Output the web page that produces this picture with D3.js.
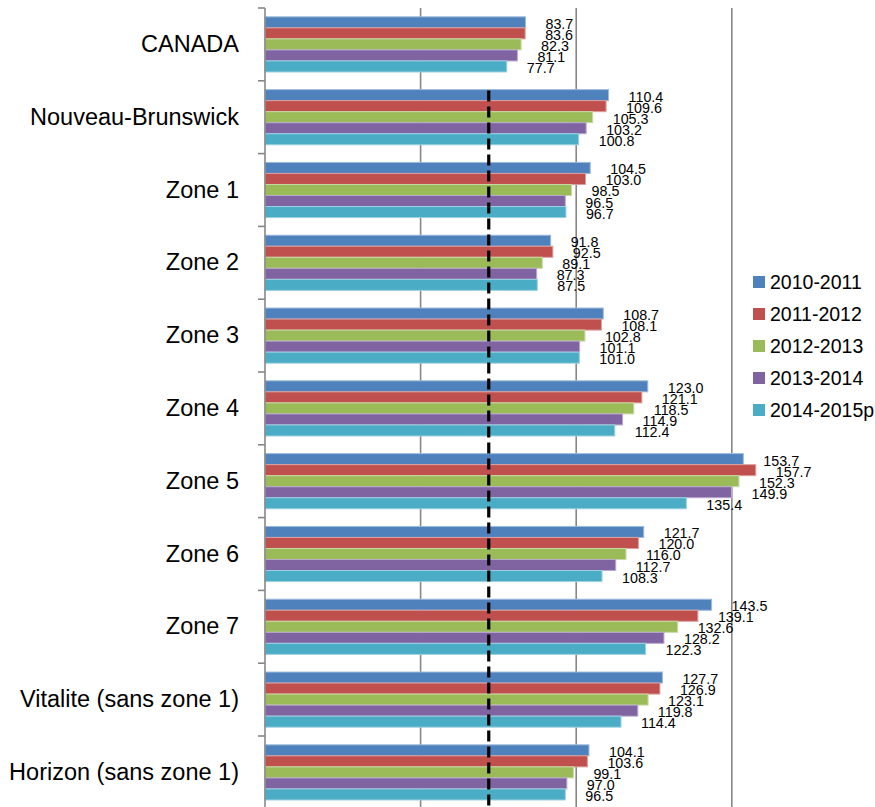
<!DOCTYPE html>
<html>
<head>
<meta charset="utf-8">
<script src="https://cdn.jsdelivr.net/npm/d3@7"></script>
<style>
  html, body { margin: 0; padding: 0; background: #fff; }
  svg { display: block; }
  text { font-family: "Liberation Sans", Arial, sans-serif; fill: #000; }
</style>
</head>
<body>
<svg id="chart" width="875" height="807"></svg>
<script>
const categories = ["CANADA", "Nouveau-Brunswick", "Zone 1", "Zone 2", "Zone 3", "Zone 4",
  "Zone 5", "Zone 6", "Zone 7", "Vitalite (sans zone 1)", "Horizon (sans zone 1)"];
const seriesNames = ["2010-2011", "2011-2012", "2012-2013", "2013-2014", "2014-2015p"];
const colors = ["#4F81BD", "#C0504D", "#9BBB59", "#8064A2", "#4BACC6"];
const s2010 = [83.7, 110.4, 104.5, 91.8, 108.7, 123.0, 153.7, 121.7, 143.5, 127.7, 104.1];
const s2011 = [83.6, 109.6, 103.0, 92.5, 108.1, 121.1, 157.7, 120.0, 139.1, 126.9, 103.6];
const s2012 = [82.3, 105.3, 98.5, 89.1, 102.8, 118.5, 152.3, 116.0, 132.6, 123.1, 99.1];
const s2013 = [81.1, 103.2, 96.5, 87.3, 101.1, 114.9, 149.9, 112.7, 128.2, 119.8, 97.0];
const s2014 = [77.7, 100.8, 96.7, 87.5, 101.0, 112.4, 135.4, 108.3, 122.3, 114.4, 96.5];
const xTicks = [0, 50, 100, 150];
const referenceValue = 71.9;
const referenceFrom = "Nouveau-Brunswick";

const seriesValues = [s2010, s2011, s2012, s2013, s2014];

const svg = d3.select("#chart");
const x0 = 265, plotTop = 8, step = 72.8;
const x = d3.scaleLinear().domain([0, 50]).range([x0, x0 + 155.6]);
const y = d3.scaleBand().domain(categories).range([plotTop, plotTop + step * categories.length]).padding(0);
const yInner = d3.scaleBand().domain(seriesNames).range([0, y.bandwidth()]).paddingInner(0).paddingOuter(0.8);
const plotBottom = plotTop + step * categories.length;

// gridlines
svg.append("g").selectAll("line").data(xTicks.filter(d => d > 0)).join("line")
  .attr("x1", d => x(d)).attr("x2", d => x(d))
  .attr("y1", plotTop).attr("y2", plotBottom)
  .attr("stroke", "#878787").attr("stroke-width", 1.6);

// bars
const lighten = c => d3.interpolateRgb(c, "#ffffff")(0.45);
const groups = svg.append("g").selectAll("g").data(categories).join("g")
  .attr("transform", d => `translate(0,${y(d)})`);
groups.each(function(cat, ci) {
  const g = d3.select(this);
  seriesNames.forEach((s, si) => {
    const v = seriesValues[si][ci];
    g.append("rect")
      .attr("x", x(0)).attr("y", yInner(s))
      .attr("width", x(v) - x(0)).attr("height", yInner.bandwidth())
      .attr("fill", colors[si])
      .attr("stroke", lighten(colors[si])).attr("stroke-width", 1);
  });
});

// value labels
groups.each(function(cat, ci) {
  const g = d3.select(this);
  seriesNames.forEach((s, si) => {
    const v = seriesValues[si][ci];
    g.append("text")
      .attr("x", x(v) + 20)
      .attr("y", yInner(s) + yInner.bandwidth() / 2 + 1.5)
      .attr("dominant-baseline", "central")
      .attr("font-size", 14.3)
      .text(v.toFixed(1));
  });
});

// axis
const axis = d3.axisLeft(y).tickSize(0).tickPadding(26);
const ag = svg.append("g").attr("transform", `translate(${x0},0)`).call(axis);
ag.select(".domain").remove();
ag.selectAll("text").attr("font-size", 23.5).attr("font-family", "Liberation Sans, Arial, sans-serif").attr("fill", "#000");
svg.append("line").attr("x1", x0).attr("x2", x0).attr("y1", plotTop).attr("y2", plotBottom)
  .attr("stroke", "#878787").attr("stroke-width", 1.6);
svg.append("g").selectAll("line").data(d3.range(categories.length + 1)).join("line")
  .attr("x1", x0 - 7).attr("x2", x0)
  .attr("y1", i => plotTop + i * step).attr("y2", i => plotTop + i * step)
  .attr("stroke", "#878787").attr("stroke-width", 1.6);

// dashed reference line
svg.append("line")
  .attr("x1", x(referenceValue)).attr("x2", x(referenceValue))
  .attr("y1", y(referenceFrom) + yInner(seriesNames[0]) + 1).attr("y2", plotBottom)
  .attr("stroke", "#000").attr("stroke-width", 3.2)
  .attr("stroke-dasharray", "11,5");

// legend
const lg = svg.append("g").selectAll("g").data(seriesNames).join("g")
  .attr("transform", (d, i) => `translate(753,${282 + i * 32})`);
lg.append("rect").attr("x", 0).attr("y", -6).attr("width", 12).attr("height", 12)
  .attr("fill", (d, i) => colors[i]);
lg.append("text").attr("x", 17).attr("y", 0).attr("dominant-baseline", "central")
  .attr("font-size", 19.5).text(d => d);
</script>
</body>
</html>
